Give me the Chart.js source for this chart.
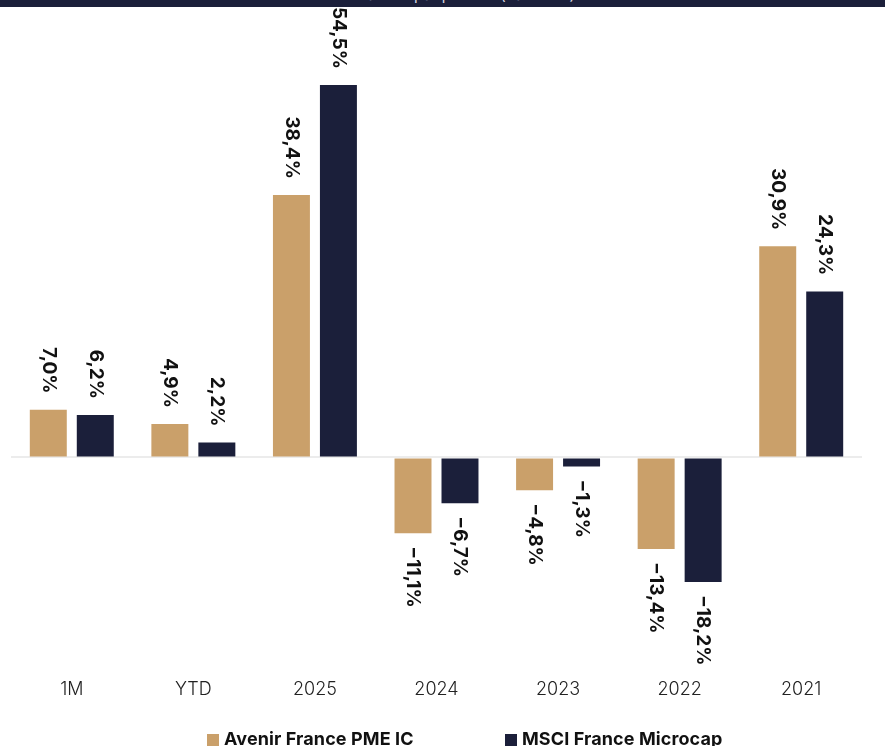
<!DOCTYPE html>
<html>
<head>
<meta charset="utf-8">
<script src="https://cdn.jsdelivr.net/npm/chart.js@4/dist/chart.umd.min.js"></script>
<style>
  html, body { margin: 0; padding: 0; background: #fff; overflow: hidden; }
  #wrap { position: relative; width: 885px; height: 746px; }
  #title {
    position: absolute; top: -17px; left: 0; width: 885px; height: 24px;
    background: #1b1f3a; color: #d8d8e0; font: 15px Inter, sans-serif;
    line-height: 24px; text-align: center;
  }
  .item {
    position: absolute; top: 728px; font: 700 18px Inter, sans-serif; color: #111;
    white-space: nowrap; letter-spacing: 0.1px;
  }
  .box { display: inline-block; width: 12px; height: 12px; margin-right: 5px; vertical-align: -1px; }
</style>
</head>
<body>
<div id="wrap">
  <canvas id="chart" width="885" height="746"></canvas>
  <div id="title">Performances par période (base 100)</div>
  <div id="legend"></div>
</div>
<script>
const categories = ['1M', 'YTD', '2025', '2024', '2023', '2022', '2021'];
const fundValues = [7.0, 4.9, 38.4, -11.1, -4.8, -13.4, 30.9];
const indexValues = [6.2, 2.2, 54.5, -6.7, -1.3, -18.2, 24.3];
const seriesNames = ['Avenir France PME IC', 'MSCI France Microcap'];
const seriesColors = ['#caa06a', '#1b1f3a'];

const fmt = v => (v < 0 ? '\u2212' : '') + Math.abs(v).toFixed(1).replace('.', ',') + '%';

const valueLabels = {
  id: 'valueLabels',
  afterDatasetsDraw(chart) {
    const ctx = chart.ctx;
    ctx.save();
    ctx.font = '700 19px Inter, sans-serif';
    ctx.fillStyle = '#111';
    ctx.textBaseline = 'middle';
    chart.data.datasets.forEach((ds, i) => {
      chart.getDatasetMeta(i).data.forEach((bar, j) => {
        const v = ds.data[j];
        ctx.save();
        if (v >= 0) {
          ctx.translate(bar.x, bar.y - 16);
          ctx.rotate(Math.PI / 2);
          ctx.textAlign = 'right';
        } else {
          ctx.translate(bar.x, bar.y + 13);
          ctx.rotate(Math.PI / 2);
          ctx.textAlign = 'left';
        }
        ctx.fillText(fmt(v), 0, 0);
        ctx.restore();
      });
    });
    ctx.restore();
  }
};

new Chart(document.getElementById('chart'), {
  type: 'bar',
  data: {
    labels: categories,
    datasets: [
      { label: seriesNames[0], data: fundValues, backgroundColor: seriesColors[0] },
      { label: seriesNames[1], data: indexValues, backgroundColor: seriesColors[1] },
    ],
  },
  options: {
    responsive: false,
    animation: false,
    barPercentage: 0.787,
    categoryPercentage: 0.773,
    layout: { padding: { left: 11, right: 23, top: 20, bottom: 45 } },
    scales: {
      x: {
        grid: { display: false },
        border: { display: false },
        ticks: { color: '#222', font: { family: 'Inter, sans-serif', size: 18, weight: 300 }, padding: 1 },
      },
      y: {
        min: -31,
        max: 64,
        ticks: { display: false, stepSize: 10 },
        border: { display: false },
        grid: {
          color: c => (c.tick.value === 0 ? '#ececec' : 'rgba(0,0,0,0)'),
          lineWidth: 2,
          drawTicks: false,
        },
      },
    },
    plugins: {
      legend: { display: false },
      tooltip: { enabled: false },
    },
  },
  plugins: [valueLabels],
});

const legendLeft = [207, 505];
document.getElementById('legend').innerHTML = seriesNames
  .map((n, i) => `<span class="item" style="left:${legendLeft[i]}px"><span class="box" style="background:${seriesColors[i]}"></span>${n}</span>`)
  .join('');
</script>
</body>
</html>
